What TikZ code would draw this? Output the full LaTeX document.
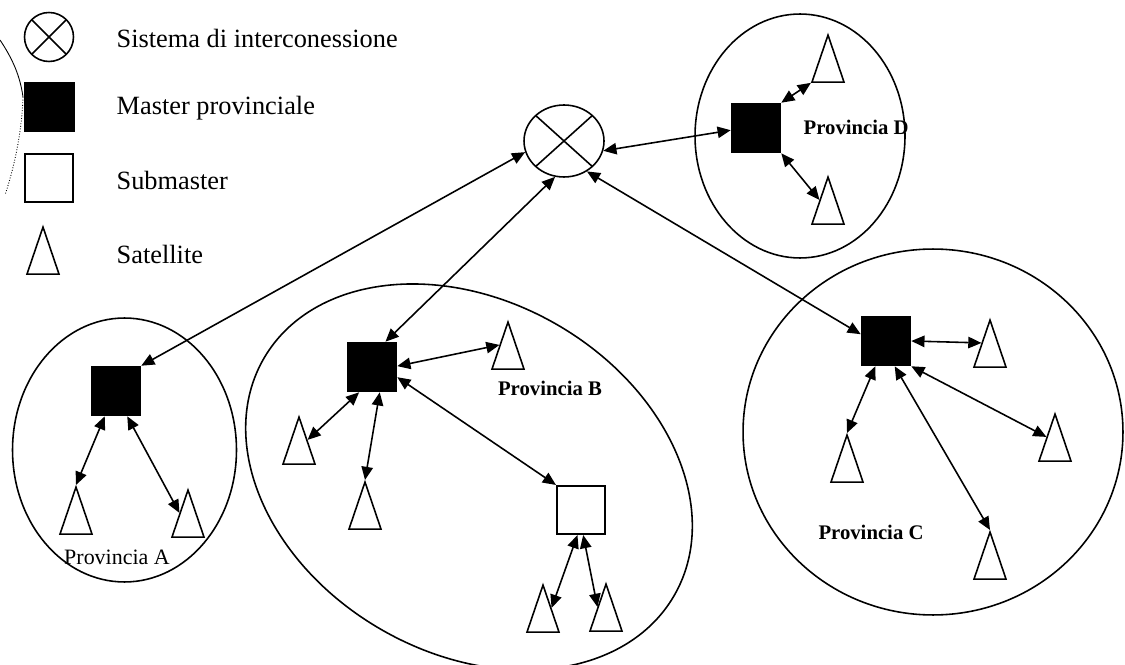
\documentclass[tikz,border=0pt]{standalone}
\usepackage{fontspec}
\setmainfont{Liberation Serif}
\usetikzlibrary{shapes.geometric,arrows.meta}

\begin{document}
\begin{tikzpicture}[x=0.02cm, y=-0.02cm, line width=0.9pt,
    master/.style={rectangle, draw, fill=black, minimum size=0.98cm, inner sep=0pt},
    submaster/.style={rectangle, draw, fill=white, minimum size=0.97cm, inner sep=0pt},
    satellite/.style={isosceles triangle, shape border rotate=90, isosceles triangle stretches,
      draw, fill=white, minimum width=0.64cm, minimum height=0.94cm, inner sep=0pt, anchor=apex},
    hub/.style={ellipse, draw, inner sep=0pt, path picture={
      \draw (path picture bounding box.north west) -- (path picture bounding box.south east)
            (path picture bounding box.north east) -- (path picture bounding box.south west);}},
    link/.style={{Triangle[length=7.5pt,width=6.5pt]}-{Triangle[length=7.5pt,width=6.5pt]}},
    legend/.style={anchor=west, font=\fontsize{15}{18}\selectfont},
    prov/.style={font=\fontsize{11.8}{14}\selectfont\bfseries}]
  \useasboundingbox (0,0) rectangle (1125,665);

  \draw[line width=0.5pt] (0,40) .. controls (12,58) and (20,75) .. (23,97);
  \draw[line width=0.5pt, densely dotted] (23,97) .. controls (22,130) and (15,165) .. (5,195);

  \node (lhub) at (49,37) [hub, minimum width=0.98cm, minimum height=0.98cm] {};
  \node (lmaster) at (49.5,107) [master] {};
  \node (lsub) at (49,178) [submaster] {};
  \node (lsat) at (43,225) [satellite] {};
  \node (thub) at (110,38) [legend] {Sistema di interconessione};
  \node (tmaster) at (110,108) [legend] {Master provinciale};
  \node (tsub) at (110,180) [legend] {Submaster};
  \node (tsat) at (110,254) [legend] {Satellite};

  \node (sys) at (564,141) [hub, minimum width=1.6cm, minimum height=1.44cm] {};

  \draw (800,136) ellipse [x radius=2.1cm, y radius=2.44cm];
  \node (md) at (756,128) [master] {};
  \node (d1) at (828,33) [satellite] {};
  \node (d2) at (828,175) [satellite] {};
  \node (provD) at (797,127) [prov, anchor=west] {Provincia D};

  \draw (124.5,450) ellipse [x radius=2.24cm, y radius=2.64cm];
  \node (ma) at (116,391) [master] {};
  \node (a1) at (76,485) [satellite] {};
  \node (a2) at (188,488) [satellite] {};
  \node (provA) at (117,557) [prov, font=\fontsize{12.5}{14}\selectfont] {Provincia A};

  \draw[rotate around={-30:(469,477)}] (469,477) ellipse [x radius=4.74cm, y radius=3.52cm];
  \node (mb) at (372,367) [master] {};
  \node (b1) at (508,320) [satellite] {};
  \node (b2) at (299,415) [satellite] {};
  \node (b3) at (365,480) [satellite] {};
  \node (sb) at (581,510) [submaster] {};
  \node (b4) at (543,583) [satellite] {};
  \node (b5) at (606,582) [satellite] {};
  \node (provB) at (550,388) [prov] {Provincia B};

  \draw (933,432) ellipse [x radius=3.8cm, y radius=3.66cm];
  \node (mc) at (886,341) [master] {};
  \node (c1) at (990,318) [satellite] {};
  \node (c2) at (1055,412) [satellite] {};
  \node (c3) at (847,433) [satellite] {};
  \node (c4) at (990,530) [satellite] {};
  \node (provC) at (871,532) [prov] {Provincia C};

  \draw[link] (sys.196) to (ma.north east);
  \draw[link] (sys.256) to (mb.62);
  \draw[link] (sys.307) to (mc.165);
  \draw[link] (sys.346) to (md.185);

  \draw[link] (md.north east) to (d1.left corner);
  \draw[link] (md.south east) to (d2.left side);

  \draw[link] (ma.246) to (a1.apex);
  \draw[link] (ma.294) to (a2.left side);

  \draw[link] (mb.2) to (b1.left side);
  \draw[link] (mb.243) to (b2.right side);
  \draw[link] (mb.287) to (b3.apex);
  \draw[link] (mb.338) to (sb.north west);
  \draw[link] (sb.262) to (b4.right side);
  \draw[link] (sb.275) to (b5.left side);

  \draw[link] (mc.east) to (c1.left side);
  \draw[link] (mc.247) to (c3.apex);
  \draw[link] (mc.289) to (c4.apex);
  \draw[link] (mc.south east) to (c2.left side);
\end{tikzpicture}
\end{document}
